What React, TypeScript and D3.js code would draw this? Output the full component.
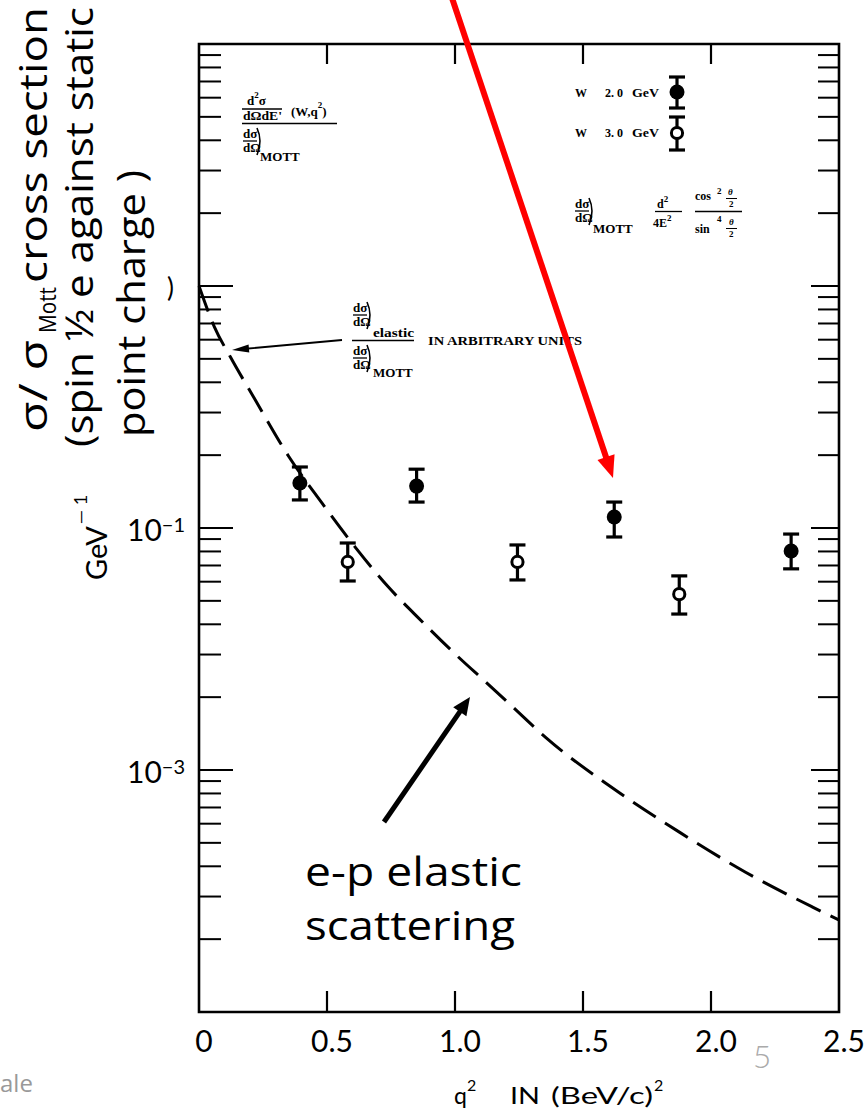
import React from "react";
import * as d3 from "d3";

// ---- data ----
const elasticQ2 = [0, 0.06, 0.125, 0.22, 0.35, 0.48, 0.61, 0.74, 0.87, 1.0, 1.13, 1.224, 1.355, 1.61, 1.875, 2.135, 2.395, 2.5];
const elasticRatio = [1.0, 0.678, 0.504, 0.338, 0.198, 0.127, 0.0834, 0.057, 0.0412, 0.0302, 0.0226, 0.0183, 0.0136, 0.0085, 0.00555, 0.00378, 0.00272, 0.0024];

const w2Q2 = [0.394, 0.85, 1.622, 2.313];
const w2Ratio = [0.1535, 0.149, 0.111, 0.0803];
const w2Low = [0.1306, 0.128, 0.0918, 0.0678];
const w2High = [0.1787, 0.175, 0.128, 0.0944];

const w3Q2 = [0.581, 1.244, 1.876];
const w3Ratio = [0.0724, 0.0724, 0.0533];
const w3Low = [0.0604, 0.061, 0.0441];
const w3High = [0.0867, 0.0851, 0.0634];

const xTicks = [0, 0.5, 1.0, 1.5, 2.0, 2.5];
const xTickLabels = ["0", "0.5", "1.0", "1.5", "2.0", "2.5"];
const yLabelValues = [0.1, 0.01];
const yLabelExponents = ["\u22121", "\u22123"];
const legendEnergies = ["2.0", "3.0"];

const W = 866;
const H = 1116;

const x = d3.scaleLinear().domain([0, 2.5]).range([199, 839]);
const y = d3.scaleLog().domain([1e-3, 10]).range([1012, 44]);

const SERIF = "'Liberation Serif', 'DejaVu Serif', serif";
const SANS = "'Open Sans', 'Lato', sans-serif";
const NUM = "Lato, 'Open Sans', sans-serif";

function arrowHead(x1: number, y1: number, x2: number, y2: number, len: number, half: number) {
  const dx = x2 - x1, dy = y2 - y1;
  const L = Math.hypot(dx, dy);
  const ux = dx / L, uy = dy / L;
  const bx = x2 - ux * len, by = y2 - uy * len;
  const px = -uy, py = ux;
  return `${x2},${y2} ${bx + px * half},${by + py * half} ${bx - px * half},${by - py * half}`;
}

function Arrow({ x1, y1, x2, y2, color, width, len, half }: any) {
  const dx = x2 - x1, dy = y2 - y1;
  const L = Math.hypot(dx, dy);
  const ex = x2 - (dx / L) * (len * 0.8), ey = y2 - (dy / L) * (len * 0.8);
  return (
    <g>
      <line x1={x1} y1={y1} x2={ex} y2={ey} stroke={color} strokeWidth={width} />
      <polygon points={arrowHead(x1, y1, x2, y2, len, half)} fill={color} />
    </g>
  );
}

function ErrPoint({ cx, cy, y1, y2, filled }: any) {
  return (
    <g>
      <line x1={cx} x2={cx} y1={y1} y2={y2} stroke="#000" strokeWidth={3.2} />
      <line x1={cx - 8} x2={cx + 8} y1={y1} y2={y1} stroke="#000" strokeWidth={3.2} />
      <line x1={cx - 8} x2={cx + 8} y1={y2} y2={y2} stroke="#000" strokeWidth={3.2} />
      {filled ? (
        <circle cx={cx} cy={cy} r={7.5} fill="#000" />
      ) : (
        <circle cx={cx} cy={cy} r={5.6} fill="#fff" stroke="#000" strokeWidth={3} />
      )}
    </g>
  );
}

// d sigma / d Omega with bracket
function DSDO({ px, py }: any) {
  return (
    <g fontFamily={SERIF} fontWeight="bold" fontSize={13}>
      <text x={px} y={py}>dσ</text>
      <line x1={px} x2={px + 14} y1={py + 3} y2={py + 3} stroke="#000" strokeWidth={1.3} />
      <text x={px} y={py + 14}>dΩ</text>
      <path d={`M${px + 14},${py - 10} Q${px + 20},${py + 3} ${px + 14},${py + 17}`} fill="none" stroke="#000" strokeWidth={1.6} />
    </g>
  );
}

export default function App() {
  const line = d3
    .line<number>()
    .x((_, i) => x(elasticQ2[i]))
    .y((d) => y(d))
    .curve(d3.curveMonotoneX);

  const yTicks = y.ticks();
  const isMajor = (v: number) => Math.abs(Math.log10(v) - Math.round(Math.log10(v))) < 1e-6;
  const x0 = x(0), x1 = x(2.5), yT = y(10), yB = y(1e-3);

  return (
    <svg width={W} height={H} style={{ position: "absolute", left: 0, top: 0, background: "#fff" }}>
      <rect width={W} height={H} fill="#fff" />

      {/* frame */}
      <path d={`M${x0},${yT} H${x1} V${yB} H${x0} Z`} fill="none" stroke="#000" strokeWidth={2.6} />

      {/* y ticks left & right */}
      {yTicks
        .filter((v) => v > 1.0001e-3 && v < 9.999)
        .map((v, i) => {
          const maj = isMajor(v);
          return (
            <g key={i}>
              <line x1={x0} x2={x0 + (maj ? 34 : 22)} y1={y(v)} y2={y(v)} stroke="#000" strokeWidth={2} />
              <line x1={x1} x2={x1 - (maj ? 28 : 21)} y1={y(v)} y2={y(v)} stroke="#000" strokeWidth={2} />
            </g>
          );
        })}

      {/* x ticks top & bottom */}
      {xTicks.slice(1, -1).map((v, i) => (
        <g key={i}>
          <line x1={x(v)} x2={x(v)} y1={yB} y2={yB - 21} stroke="#000" strokeWidth={2.2} />
          <line x1={x(v)} x2={x(v)} y1={yT} y2={yT + 20} stroke="#000" strokeWidth={2.2} />
        </g>
      ))}

      {/* x tick labels */}
      {xTicks.map((v, i) => (
        <text key={i} x={x(v) + 5} y={1052} textAnchor="middle" fontFamily={NUM} fontSize={30}>
          {xTickLabels[i]}
        </text>
      ))}

      {/* y tick labels */}
      {yLabelValues.map((v, i) => (
        <text key={i} x={127} y={y(v) + 13} fontFamily={NUM} fontSize={30}>
          10
          <tspan dy={-9} fontSize={20}>{yLabelExponents[i]}</tspan>
        </text>
      ))}
      <text x={167} y={297} fontFamily={NUM} fontSize={26}>)</text>

      {/* GeV^-1 */}
      <text transform="translate(107,580) rotate(-90)" fontFamily={NUM} fontSize={29}>
        GeV
        <tspan dy={-20} dx={2} fontSize={18}>{"\u2014\u00a01"}</tspan>
      </text>

      {/* x-axis title */}
      <g fontFamily={NUM} fontSize={23}>
        <text x={454} y={1104}>q</text>
        <text x={467} y={1091} fontSize={16}>2</text>
        <text x={510} y={1104} textLength={30} lengthAdjust="spacingAndGlyphs">IN</text>
        <text x={551} y={1104} textLength={102} lengthAdjust="spacingAndGlyphs">(BeV/c)</text>
        <text x={654} y={1091} fontSize={16}>2</text>
      </g>

      {/* elastic curve */}
      <path d={line(elasticRatio) || ""} fill="none" stroke="#000" strokeWidth={3} strokeDasharray="27 11" />

      {/* data */}
      {w2Q2.map((q, i) => (
        <ErrPoint key={"a" + i} cx={x(q)} cy={y(w2Ratio[i])} y1={y(w2High[i])} y2={y(w2Low[i])} filled />
      ))}
      {w3Q2.map((q, i) => (
        <ErrPoint key={"b" + i} cx={x(q)} cy={y(w3Ratio[i])} y1={y(w3High[i])} y2={y(w3Low[i])} filled={false} />
      ))}

      {/* legend */}
      <g fontFamily={SERIF} fontWeight="bold" fontSize={12}>
        {legendEnergies.map((e, i) => (
          <g key={i}>
            <text x={575} y={97 + i * 40}>W</text>
            <text x={605} y={97 + i * 40}>{e.replace(".", ". ")}</text>
            <text x={632} y={97 + i * 40} textLength={27} lengthAdjust="spacingAndGlyphs">GeV</text>
          </g>
        ))}
      </g>
      <ErrPoint cx={677} cy={92} y1={77} y2={108} filled />
      <ErrPoint cx={677} cy={133} y1={117} y2={150} filled={false} />

      {/* top-left formula */}
      <g fontFamily={SERIF} fontWeight="bold" fontSize={13}>
        <text x={247} y={105}>
          d<tspan dy={-7} fontSize={9}>2</tspan>
          <tspan dy={7}>σ</tspan>
        </text>
        <line x1={242} x2={282} y1={109} y2={109} stroke="#000" strokeWidth={1.3} />
        <text x={243} y={120} textLength={39} lengthAdjust="spacingAndGlyphs">dΩdE'</text>
        <text x={291} y={116}>
          (W,q<tspan dy={-8} fontSize={9}>2</tspan>
          <tspan dy={8}>)</tspan>
        </text>
        <line x1={242} x2={337} y1={123.5} y2={123.5} stroke="#000" strokeWidth={1.5} />
      </g>
      <DSDO px={243} py={138} />
      <text x={260} y={161} fontFamily={SERIF} fontWeight="bold" fontSize={13}>MOTT</text>

      {/* Mott formula */}
      <DSDO px={575} py={208} />
      <text x={593} y={233} fontFamily={SERIF} fontWeight="bold" fontSize={13}>MOTT</text>
      <g fontFamily={SERIF} fontWeight="bold" fontSize={12}>
        <text x={657} y={208}>
          d<tspan dy={-6} fontSize={9}>2</tspan>
        </text>
        <line x1={655} x2={682} y1={211.5} y2={211.5} stroke="#000" strokeWidth={1.3} />
        <text x={653} y={227}>
          4E<tspan dy={-6} fontSize={9}>2</tspan>
        </text>
        <text x={695} y={200}>cos</text>
        <text x={717} y={194} fontSize={9}>2</text>
        <text x={728} y={195} fontSize={9} fontStyle="italic">θ</text>
        <line x1={726} x2={737} y1={198.5} y2={198.5} stroke="#000" strokeWidth={1} />
        <text x={729} y={207} fontSize={9}>2</text>
        <line x1={695} x2={742} y1={211.5} y2={211.5} stroke="#000" strokeWidth={1.3} />
        <text x={695} y={233}>sin</text>
        <text x={717} y={222} fontSize={9}>4</text>
        <text x={729} y={225} fontSize={9} fontStyle="italic">θ</text>
        <line x1={726} x2={737} y1={228.5} y2={228.5} stroke="#000" strokeWidth={1} />
        <text x={729} y={237} fontSize={9}>2</text>
      </g>

      {/* elastic annotation */}
      <DSDO px={353} py={312} />
      <text x={373} y={337} fontFamily={SERIF} fontWeight="bold" fontSize={13} textLength={41} lengthAdjust="spacingAndGlyphs">elastic</text>
      <line x1={352} x2={414} y1={340.5} y2={340.5} stroke="#000" strokeWidth={1.5} />
      <DSDO px={353} py={355} />
      <text x={373} y={377} fontFamily={SERIF} fontWeight="bold" fontSize={13}>MOTT</text>
      <text x={428} y={345} fontFamily={SERIF} fontWeight="bold" fontSize={13} textLength={154} lengthAdjust="spacingAndGlyphs">IN ARBITRARY UNITS</text>
      <Arrow x1={342} y1={340} x2={232} y2={350} color="#000" width={1.8} len={17} half={4} />

      {/* overlay y-axis title */}
      <g fontFamily={SANS} fontSize={39} fill="#000">
        <text transform="translate(47,432) rotate(-90)" textLength={92} lengthAdjust="spacingAndGlyphs">σ/ σ</text>
        <text transform="translate(56,333) rotate(-90)" fontSize={24} textLength={46} lengthAdjust="spacingAndGlyphs">Mott</text>
        <text transform="translate(47,283) rotate(-90)" textLength={276} lengthAdjust="spacingAndGlyphs">cross section</text>
        <text transform="translate(93,447) rotate(-90)" textLength={440} lengthAdjust="spacingAndGlyphs">(spin ½ e against static</text>
        <text transform="translate(145,437) rotate(-90)" textLength={267} lengthAdjust="spacingAndGlyphs">point charge )</text>
      </g>

      {/* e-p elastic label and arrows */}
      <g fontFamily={SANS} fontSize={41}>
        <text x={305} y={886} textLength={217} lengthAdjust="spacingAndGlyphs">e-p elastic</text>
        <text x={305} y={940} textLength={210} lengthAdjust="spacingAndGlyphs">scattering</text>
      </g>
      <Arrow x1={384} y1={822} x2={470} y2={697} color="#000" width={5} len={18} half={8} />
      <Arrow x1={452} y1={-2} x2={613} y2={478} color="#ff0000" width={6} len={22} half={9} />

      {/* page decorations */}
      <text x={0} y={1092} fontFamily={SANS} fontSize={24} fill="#999">ale</text>
      <text x={762} y={1068} textAnchor="middle" fontFamily={NUM} fontWeight={300} fontSize={32} fill="#aaa">5</text>
    </svg>
  );
}
